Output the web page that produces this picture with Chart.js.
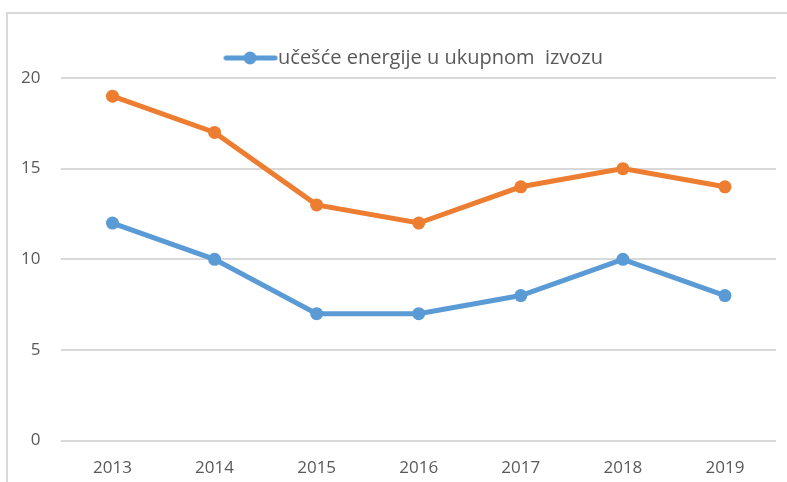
<!DOCTYPE html>
<html>
<head>
<meta charset="utf-8">
<script src="https://cdn.jsdelivr.net/npm/chart.js@4"></script>
<style>
  html, body { margin: 0; padding: 0; background: #fff; }
  #wrap { position: relative; width: 787px; height: 482px; overflow: hidden; }
  #frame { position: absolute; left: 6px; top: 12px; width: 800px; height: 500px;
           border-top: 2px solid #d9d9d9; border-left: 2px solid #d9d9d9; }
  #c { position: absolute; left: 0; top: 0; }
</style>
</head>
<body>
<div id="wrap">
  <div id="frame"></div>
  <canvas id="c" width="787" height="482"></canvas>
</div>
<script>
// podaci
var godine = ["2013", "2014", "2015", "2016", "2017", "2018", "2019"];
var ucesceEnergije = [12, 10, 7, 7, 8, 10, 8];
var drugaSerija = [19, 17, 13, 12, 14, 15, 14];
var yTicks = [0, 5, 10, 15, 20];

var plava = "#5b9bd5";
var narandzasta = "#ed7d31";

// ikonica za legendu: linija + krug (pomjerena desno da bude uz tekst)
function legendIcon(color) {
  var cv = document.createElement("canvas");
  cv.width = 130;
  cv.height = 16;
  var g = cv.getContext("2d");
  g.strokeStyle = color;
  g.lineWidth = 5;
  g.lineCap = "round";
  g.beginPath();
  g.moveTo(70.5, 8);
  g.lineTo(119.5, 8);
  g.stroke();
  g.fillStyle = color;
  g.beginPath();
  g.arc(94.5, 8, 6.5, 0, Math.PI * 2);
  g.fill();
  return cv;
}

var ctx = document.getElementById("c").getContext("2d");
new Chart(ctx, {
  type: "line",
  data: {
    labels: godine,
    datasets: [
      {
        label: "učešće energije u ukupnom  izvozu",
        data: ucesceEnergije,
        borderColor: plava,
        backgroundColor: plava,
        borderWidth: 5,
        pointRadius: 6.5,
        pointHoverRadius: 6.5,
        pointBorderWidth: 0,
        tension: 0,
      },
      {
        label: "",
        data: drugaSerija,
        borderColor: narandzasta,
        backgroundColor: narandzasta,
        borderWidth: 5,
        pointRadius: 6.5,
        pointHoverRadius: 6.5,
        pointBorderWidth: 0,
        tension: 0,
      },
    ],
  },
  options: {
    responsive: false,
    animation: false,
    layout: { padding: { left: 0, right: 11, top: 25, bottom: -13 } },
    scales: {
      x: {
        offset: true,
        grid: { display: false, drawTicks: false },
        border: { display: false },
        ticks: {
          color: "#595959",
          font: { family: "Open Sans", size: 17 },
          padding: 17,
        },
      },
      y: {
        min: 0,
        max: 20,
        afterBuildTicks: function (axis) {
          axis.ticks = yTicks.map(function (v) { return { value: v }; });
        },
        grid: { color: "#d9d9d9", lineWidth: 2, drawTicks: false },
        border: { display: false },
        ticks: {
          color: "#595959",
          font: { family: "Open Sans", size: 17 },
          padding: 21,
        },
      },
    },
    plugins: {
      legend: {
        display: true,
        position: "top",
        labels: {
          usePointStyle: true,
          pointStyleWidth: 95,
          color: "#595959",
          font: { family: "Open Sans", size: 20 },
          padding: 23,
          generateLabels: function (chart) {
            return [{
              text: chart.data.datasets[0].label,
              pointStyle: legendIcon(plava),
              fillStyle: plava,
              strokeStyle: plava,
              lineWidth: 0,
              datasetIndex: 0,
              fontColor: "#595959",
            }];
          },
        },
      },
      tooltip: { enabled: false },
    },
  },
});
</script>
</body>
</html>
